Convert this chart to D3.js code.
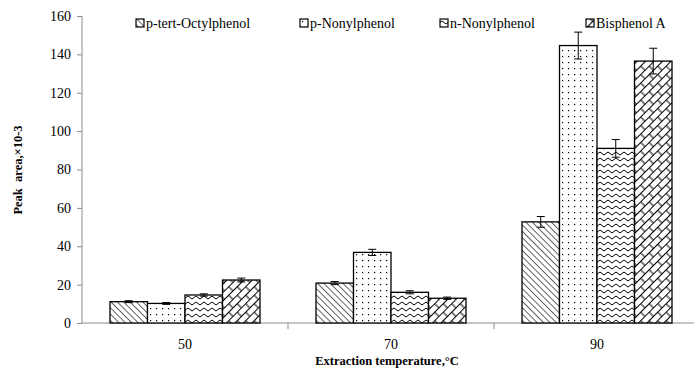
<!DOCTYPE html>
<meta charset="utf-8">
<style>
  body { margin: 0; background: #fff; }
  .axis path, .axis line { stroke: #8c8c8c; }
  .bars rect { stroke: #000; stroke-width: 1.3px; }
  .err line { stroke: #000; stroke-width: 1px; }
</style>
<svg width="694" height="369"></svg>
<script src="https://cdn.jsdelivr.net/npm/d3@7"></script>
<script>

  var temps = ["50", "70", "90"];
  var series = ["p-tert-Octylphenol", "p-Nonylphenol", "n-Nonylphenol", "Bisphenol A"];
  var octyl   = [11.1, 20.8, 52.7];
  var pNonyl  = [10.2, 36.8, 144.6];
  var nNonyl  = [14.6, 16.0, 91.0];
  var bisA    = [22.4, 12.9, 136.5];
  var octylErr  = [0.5, 0.8, 2.8];
  var pNonylErr = [0.5, 1.6, 7.0];
  var nNonylErr = [0.6, 0.8, 4.6];
  var bisAErr   = [1.0, 0.6, 6.7];
  var yTicks = [0, 20, 40, 60, 80, 100, 120, 140, 160];

  var values = [octyl, pNonyl, nNonyl, bisA];
  var errs = [octylErr, pNonylErr, nNonylErr, bisAErr];

  var serif = "'Liberation Serif', 'Times New Roman', Times, 'DejaVu Serif', serif";
  var svg = d3.select("svg").style("font-family", serif);
  var plotLeft = 82, plotBottom = 323, plotTop = 16;

  var x0 = d3.scaleBand().domain(temps).range([plotLeft, plotLeft + 3 * 206]);
  var x1 = d3.scaleBand().domain(series).range([28, 178]);
  var y = d3.scaleLinear().domain([0, 160]).range([plotBottom, plotTop]);

  // 填充图案
  var defs = svg.append("defs");

  var p1 = defs.append("pattern").attr("id", "pat0").attr("patternUnits", "userSpaceOnUse")
        .attr("width", 4.5).attr("height", 4.5).attr("patternTransform", "rotate(-45)");
  p1.append("rect").attr("width", 4.5).attr("height", 4.5).attr("fill", "#fff");
  p1.append("line").attr("x1", 0).attr("y1", 0).attr("x2", 0).attr("y2", 4.5)
        .attr("stroke", "#000").attr("stroke-width", 1.2);

  var p2 = defs.append("pattern").attr("id", "pat1").attr("patternUnits", "userSpaceOnUse")
        .attr("width", 6).attr("height", 6);
  p2.append("rect").attr("width", 6).attr("height", 6).attr("fill", "#fff");
  p2.append("rect").attr("x", 2).attr("y", 2).attr("width", 1.2).attr("height", 1.2).attr("fill", "#000");

  var p3 = defs.append("pattern").attr("id", "pat2").attr("patternUnits", "userSpaceOnUse")
        .attr("width", 8).attr("height", 6);
  p3.append("rect").attr("width", 8).attr("height", 6).attr("fill", "#fff");
  p3.append("path").attr("d", "M0,3.5 Q2,0.5 4,3.5 T8,3.5").attr("fill", "none")
        .attr("stroke", "#000").attr("stroke-width", 1);

  var p4 = defs.append("pattern").attr("id", "pat3").attr("patternUnits", "userSpaceOnUse")
        .attr("width", 12).attr("height", 12).attr("patternTransform", "rotate(-45)");
  p4.append("rect").attr("width", 12).attr("height", 12).attr("fill", "#fff");
  p4.append("path").attr("d", "M0,0.5 H12 M0,6.5 H12 M3,0.5 V6.5 M9,6.5 V12.5")
        .attr("fill", "none").attr("stroke", "#000").attr("stroke-width", 1);

  // 坐标轴
  var yAxis = svg.append("g").attr("class", "axis").attr("transform", "translate(" + plotLeft + ",0)")
        .call(d3.axisLeft(y).tickValues(yTicks).tickSize(5).tickPadding(6));
  yAxis.attr("font-family", null).attr("font-size", null);
  yAxis.selectAll("text").style("font-family", serif).style("font-size", "14px").attr("fill", "#000");
  yAxis.select(".domain").attr("d", "M0," + plotTop + "V" + plotBottom);

  var xAxis = svg.append("g").attr("class", "axis").attr("transform", "translate(0," + plotBottom + ")");
  xAxis.append("line").attr("x1", plotLeft).attr("x2", 694).attr("stroke", "#8c8c8c");
  xAxis.selectAll(".tk").data(temps.slice(1)).enter().append("line")
        .attr("x1", function (d) { return x0(d); }).attr("x2", function (d) { return x0(d); })
        .attr("y1", 0).attr("y2", 6).attr("stroke", "#8c8c8c");
  xAxis.selectAll("text").data(temps).enter().append("text")
        .attr("x", function (d) { return x0(d) + x0.bandwidth() / 2; })
        .attr("y", 26).attr("text-anchor", "middle")
        .style("font-family", serif).style("font-size", "14px")
        .text(function (d) { return d; });

  // 柱子
  var groups = svg.append("g").attr("class", "bars").selectAll("g")
        .data(temps).enter().append("g")
        .attr("transform", function (d) { return "translate(" + x0(d) + ",0)"; });

  groups.selectAll("rect")
        .data(function (d, i) { return series.map(function (s, j) { return {s: s, j: j, v: values[j][i], e: errs[j][i]}; }); })
        .enter().append("rect")
        .attr("x", function (d) { return x1(d.s); })
        .attr("width", x1.bandwidth())
        .attr("y", function (d) { return y(d.v); })
        .attr("height", function (d) { return plotBottom - y(d.v); })
        .attr("fill", function (d) { return "url(#pat" + d.j + ")"; });

  var eg = groups.selectAll(".err")
        .data(function (d, i) { return series.map(function (s, j) { return {s: s, v: values[j][i], e: errs[j][i]}; }); })
        .enter().append("g").attr("class", "err")
        .attr("transform", function (d) { return "translate(" + (x1(d.s) + x1.bandwidth() / 2) + ",0)"; });
  eg.append("line").attr("y1", function (d) { return y(d.v - d.e); }).attr("y2", function (d) { return y(d.v + d.e); });
  eg.append("line").attr("x1", -4).attr("x2", 4).attr("y1", function (d) { return y(d.v + d.e); }).attr("y2", function (d) { return y(d.v + d.e); });
  eg.append("line").attr("x1", -4).attr("x2", 4).attr("y1", function (d) { return y(d.v - d.e); }).attr("y2", function (d) { return y(d.v - d.e); });

  // 图例
  var legX = [136, 300, 440, 586];
  var leg = svg.append("g").selectAll("g").data(series).enter().append("g")
        .attr("transform", function (d, i) { return "translate(" + legX[i] + ",19)"; });
  leg.append("rect").attr("width", 8).attr("height", 8)
        .attr("fill", function (d, i) { return "url(#pat" + i + ")"; })
        .attr("stroke", "#000").attr("stroke-width", 1.2);
  leg.append("text").attr("x", 10).attr("y", 9)
        .style("font-family", serif).style("font-size", "14px")
        .text(function (d) { return d; });

  // 轴标题
  svg.append("text").attr("x", 387).attr("y", 365).attr("text-anchor", "middle")
        .style("font-family", serif).style("font-size", "12.5px").style("font-weight", "bold")
        .text("Extraction temperature,°C");
  svg.append("text").attr("transform", "translate(22,170) rotate(-90)").attr("text-anchor", "middle")
        .style("font-family", serif).style("font-size", "12.5px").style("font-weight", "bold")
        .style("white-space", "pre")
        .text("Peak  area,×10-3");
</script>
